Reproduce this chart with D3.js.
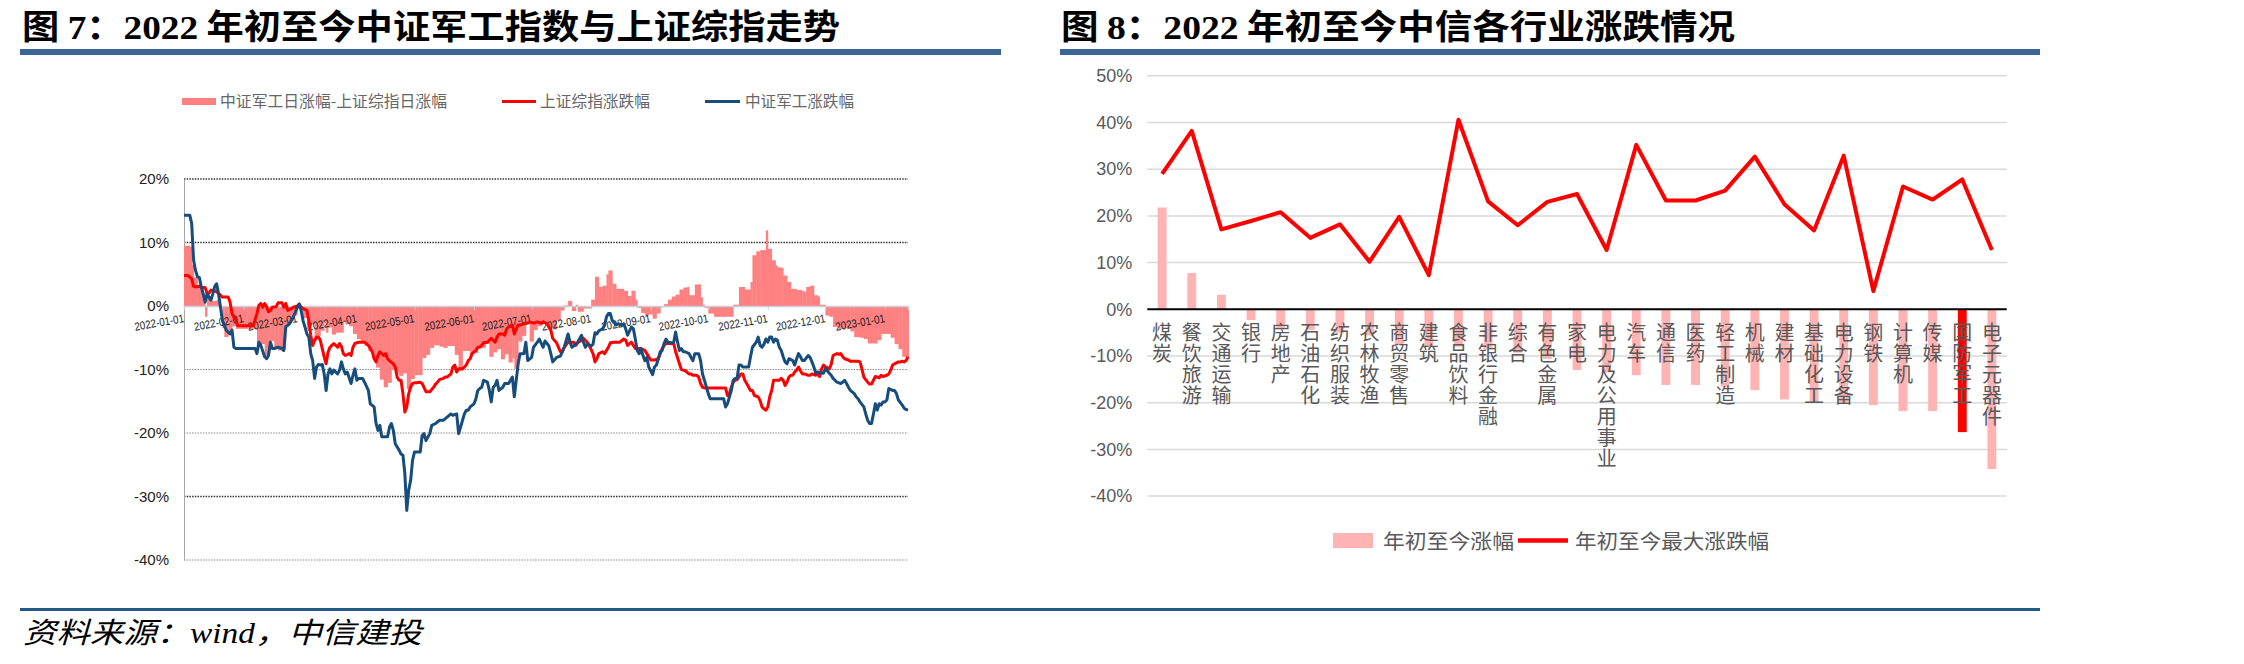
<!DOCTYPE html>
<html><head><meta charset="utf-8">
<script src="https://cdn.jsdelivr.net/npm/d3@7"></script>
<style>html,body{margin:0;padding:0;background:#fff;}svg{display:block;}</style>
</head><body>
<svg id="c" width="2244" height="664"></svg>
<script>
// ================= DATA =================
// Chart 7 (left)
const leftTitle = "图 7：2022 年初至今中证军工指数与上证综指走势";
const leftLegend = ["中证军工日涨幅-上证综指日涨幅", "上证综指涨跌幅", "中证军工涨跌幅"];
const leftYTicks = [20, 10, 0, -10, -20, -30, -40];
const dateTicks = ["2022-01-01","2022-02-01","2022-03-01","2022-04-01","2022-05-01","2022-06-01","2022-07-01","2022-08-01","2022-09-01","2022-10-01","2022-11-01","2022-12-01","2023-01-01"];
const periodStart = "2022-01-01", periodEnd = "2023-01-13";
// [days since 2022-01-01, value %]
const defenseSeries = [[0,14.3],[3,14.3],[4,13.0],[5,7.2],[6,5.6],[7,4.6],[8,4.5],[9,3.0],[10,1.9],[11,0.6],[12,1.9],[13,1.4],[14,0.9],[15,1.9],[16,3.1],[17,3.5],[18,1.9],[19,-0.2],[20,-2.3],[22,-3.8],[24,-4.4],[25,-3.8],[26,-6.5],[27,-6.7],[29,-6.7],[33,-6.7],[37,-6.7],[38,-7.5],[39,-5.7],[40,-6.2],[42,-8.0],[43,-8.3],[44,-7.8],[45,-5.7],[46,-6.7],[47,-6.7],[49,-6.5],[51,-6.7],[52,-7.0],[53,-3.3],[55,-2.8],[57,-1.7],[59,-0.2],[60,0.3],[61,-0.7],[62,-2.3],[64,-4.4],[65,-4.9],[66,-7.5],[67,-8.6],[68,-11.4],[69,-9.6],[70,-9.2],[71,-9.3],[72,-9.2],[73,-10.7],[74,-13.3],[75,-10.7],[76,-9.9],[77,-10.7],[78,-10.1],[80,-10.7],[81,-10.1],[82,-8.8],[83,-9.9],[84,-10.7],[85,-10.4],[87,-12.2],[88,-10.9],[89,-9.9],[90,-11.7],[91,-11.4],[93,-11.4],[94,-12.0],[96,-13.3],[97,-15.4],[99,-15.9],[100,-18.5],[101,-19.6],[102,-18.8],[103,-20.6],[106,-20.6],[107,-19.1],[108,-18.5],[109,-19.6],[110,-21.7],[112,-22.7],[113,-23.3],[114,-23.5],[115,-26.4],[116,-32.2],[117,-29.0],[118,-27.5],[119,-24.3],[120,-23.0],[123,-23.0],[124,-20.4],[125,-20.1],[126,-21.2],[128,-20.1],[129,-18.8],[131,-18.5],[133,-18.0],[135,-18.0],[137,-17.5],[139,-17.0],[140,-17.2],[142,-17.0],[143,-20.1],[144,-19.1],[146,-17.0],[147,-16.4],[148,-16.4],[149,-15.9],[151,-15.4],[152,-14.6],[153,-13.3],[154,-13.0],[155,-12.8],[156,-11.7],[158,-12.0],[159,-13.3],[160,-15.1],[161,-12.8],[162,-12.5],[163,-11.7],[164,-13.3],[166,-12.8],[167,-12.2],[169,-12.2],[171,-11.2],[172,-14.3],[173,-11.7],[174,-9.1],[175,-7.5],[177,-7.5],[178,-5.7],[179,-8.6],[181,-8.1],[182,-6.5],[184,-5.7],[185,-5.2],[187,-6.5],[188,-5.5],[190,-6.3],[191,-7.5],[192,-8.8],[194,-8.1],[196,-7.9],[198,-6.5],[200,-4.4],[201,-5.7],[202,-6.5],[204,-6.0],[205,-5.7],[207,-4.6],[208,-5.7],[209,-6.5],[210,-6.0],[212,-6.3],[213,-6.0],[214,-4.2],[215,-4.4],[216,-3.9],[218,-3.6],[219,-3.0],[220,-1.7],[221,-1.2],[222,-1.2],[223,-2.3],[225,-3.0],[226,-2.8],[228,-3.0],[229,-2.8],[230,-3.6],[231,-4.6],[233,-3.3],[234,-3.6],[235,-5.2],[236,-7.0],[237,-7.5],[238,-6.7],[239,-7.8],[240,-8.6],[241,-8.1],[242,-9.6],[244,-10.8],[245,-9.6],[246,-9.3],[247,-8.3],[248,-7.2],[249,-7.0],[250,-5.9],[251,-5.2],[252,-5.7],[254,-5.8],[255,-5.7],[256,-4.1],[257,-5.7],[258,-7.0],[259,-6.7],[260,-7.2],[261,-7.2],[263,-7.5],[264,-8.1],[265,-8.6],[266,-7.5],[268,-7.5],[269,-8.6],[270,-10.7],[271,-11.7],[273,-13.8],[274,-14.6],[276,-14.6],[278,-14.6],[281,-14.6],[282,-15.9],[283,-15.4],[284,-14.3],[285,-13.3],[286,-11.7],[287,-11.4],[288,-11.4],[289,-9.3],[290,-9.3],[291,-9.6],[293,-9.6],[294,-9.6],[295,-8.0],[296,-6.5],[298,-5.7],[299,-4.9],[300,-6.2],[301,-6.5],[302,-6.0],[303,-5.2],[304,-5.7],[305,-4.9],[306,-4.9],[307,-5.7],[308,-5.2],[309,-5.4],[310,-6.5],[311,-7.0],[312,-8.0],[313,-8.8],[314,-9.1],[315,-8.3],[317,-8.6],[318,-9.3],[319,-8.3],[320,-7.5],[321,-8.0],[322,-8.6],[323,-8.6],[325,-7.8],[326,-8.1],[327,-8.8],[328,-9.6],[329,-10.6],[330,-10.4],[332,-10.6],[333,-10.6],[334,-9.8],[336,-10.6],[337,-10.9],[338,-11.4],[339,-11.7],[340,-12.0],[342,-12.2],[343,-12.0],[344,-11.7],[345,-12.2],[346,-12.8],[347,-13.3],[349,-13.8],[350,-14.3],[351,-14.6],[352,-15.1],[354,-15.9],[355,-17.0],[356,-18.0],[357,-18.5],[358,-18.5],[359,-17.0],[360,-15.4],[361,-16.4],[362,-15.4],[363,-15.6],[364,-15.1],[365,-15.1],[366,-14.8],[367,-13.0],[369,-13.3],[370,-13.3],[371,-13.8],[372,-14.8],[374,-15.6],[375,-16.1],[376,-16.3],[377,-16.4]];
const sseSeries = [[0,4.8],[2,4.8],[4,4.3],[5,3.1],[6,3.0],[8,3.1],[10,2.9],[11,2.9],[12,2.0],[13,2.0],[14,2.5],[16,2.4],[17,2.2],[18,2.0],[20,1.4],[21,1.4],[23,1.4],[24,0.6],[25,-1.2],[27,-2.2],[28,-3.1],[30,-3.1],[33,-3.1],[35,-3.1],[36,-3.1],[38,-1.2],[39,0.1],[40,0.4],[41,-0.2],[42,0.4],[43,-0.1],[44,-0.9],[45,-0.7],[46,-0.2],[48,-0.1],[49,0.5],[51,0.5],[52,-0.2],[53,0.4],[54,-0.7],[56,-0.4],[57,-0.2],[59,0.0],[60,0.3],[61,-0.2],[62,-0.4],[64,-0.7],[65,-2.3],[66,-4.6],[67,-6.2],[68,-5.4],[69,-4.9],[70,-4.9],[71,-5.4],[73,-8.0],[74,-9.1],[75,-7.3],[76,-6.5],[77,-6.2],[78,-5.9],[80,-6.5],[81,-5.9],[82,-6.4],[83,-7.5],[84,-7.8],[86,-7.5],[87,-7.8],[88,-6.5],[89,-5.9],[91,-5.7],[93,-5.7],[94,-5.7],[96,-6.2],[97,-6.7],[98,-7.2],[99,-8.3],[100,-8.8],[101,-7.8],[102,-7.2],[104,-7.8],[105,-7.5],[106,-8.3],[107,-8.6],[109,-9.1],[110,-9.6],[111,-11.2],[112,-11.7],[113,-11.7],[114,-13.8],[115,-16.7],[116,-15.9],[117,-13.8],[118,-12.8],[119,-12.2],[120,-12.1],[121,-12.1],[123,-12.0],[124,-12.2],[126,-13.5],[127,-13.5],[128,-13.5],[130,-12.8],[131,-12.3],[132,-12.0],[133,-11.6],[135,-11.4],[136,-11.2],[137,-11.2],[139,-10.7],[140,-9.6],[141,-9.3],[142,-10.4],[143,-9.9],[145,-9.9],[146,-9.6],[147,-9.3],[148,-8.6],[149,-8.3],[150,-7.5],[152,-7.0],[153,-6.5],[154,-6.5],[155,-6.2],[156,-5.8],[158,-5.7],[159,-5.4],[160,-5.1],[162,-5.7],[163,-4.9],[164,-4.4],[166,-4.4],[167,-4.6],[168,-3.6],[169,-3.3],[171,-3.0],[172,-4.4],[173,-3.6],[174,-3.0],[175,-3.0],[177,-2.8],[178,-2.8],[180,-2.5],[182,-2.7],[184,-2.5],[186,-2.7],[187,-2.5],[189,-2.8],[191,-3.8],[192,-5.1],[194,-5.8],[196,-7.2],[197,-7.2],[198,-6.5],[200,-5.7],[201,-5.7],[203,-5.7],[204,-6.2],[205,-5.8],[207,-5.4],[208,-5.1],[210,-5.7],[211,-6.2],[213,-7.5],[214,-8.8],[215,-8.3],[216,-7.5],[218,-7.2],[219,-7.5],[221,-6.5],[222,-5.8],[224,-5.7],[225,-5.7],[227,-5.7],[229,-5.2],[230,-5.4],[231,-6.2],[233,-5.7],[234,-6.2],[235,-6.7],[237,-6.7],[238,-6.7],[240,-7.0],[241,-7.5],[243,-8.5],[244,-8.5],[245,-8.5],[247,-8.3],[248,-7.5],[249,-6.7],[250,-6.2],[251,-5.9],[252,-5.9],[254,-5.9],[255,-5.9],[256,-7.2],[258,-9.1],[259,-10.0],[260,-10.1],[261,-10.2],[263,-10.7],[264,-10.7],[265,-10.9],[267,-10.9],[268,-11.2],[269,-12.2],[270,-12.8],[271,-12.9],[273,-12.9],[276,-12.9],[279,-12.9],[282,-12.9],[283,-14.1],[284,-13.8],[285,-12.8],[286,-12.0],[287,-11.7],[288,-11.6],[290,-10.7],[291,-10.7],[292,-11.7],[293,-12.2],[295,-13.3],[296,-13.3],[297,-14.1],[299,-14.3],[300,-14.9],[301,-15.9],[302,-16.2],[303,-16.4],[304,-15.9],[305,-14.3],[306,-13.3],[307,-11.7],[308,-11.7],[310,-11.7],[311,-11.4],[312,-11.7],[313,-12.5],[314,-12.0],[315,-11.2],[316,-10.9],[317,-10.9],[318,-10.4],[319,-10.1],[320,-9.6],[321,-10.2],[322,-10.7],[323,-10.7],[325,-10.9],[326,-10.9],[327,-10.7],[329,-10.9],[330,-10.7],[331,-11.1],[332,-9.9],[333,-9.3],[334,-9.6],[336,-9.9],[337,-9.2],[338,-7.8],[340,-7.5],[341,-7.6],[342,-7.5],[343,-8.0],[344,-8.3],[346,-8.5],[347,-8.7],[348,-8.7],[350,-8.7],[351,-8.7],[352,-8.8],[353,-9.9],[354,-11.2],[356,-12.0],[357,-12.3],[358,-12.3],[359,-11.7],[360,-11.1],[362,-11.3],[363,-10.9],[364,-11.1],[366,-10.9],[367,-10.7],[368,-10.1],[369,-9.3],[370,-9.1],[372,-8.8],[373,-8.8],[374,-8.7],[375,-8.8],[376,-8.6],[377,-8.0]];
const spreadSeries = [[0,9.5],[3,9.3],[4,6.5],[5,4.5],[7,3.0],[9,3.0],[10,1.5],[11,-1.7],[12,1.3],[14,0.8],[17,1.0],[18,-0.2],[20,-3.5],[21,-4.9],[23,-4.5],[25,-3.2],[27,-3.6],[30,-3.6],[33,-3.6],[36,-3.6],[38,-6.3],[40,-6.0],[42,-7.8],[44,-7.0],[45,-5.5],[47,-6.5],[49,-7.0],[51,-7.2],[52,-6.8],[53,-3.0],[55,-2.3],[57,-1.5],[59,-0.2],[60,0.0],[62,-1.9],[64,-3.7],[65,-2.6],[66,-2.9],[68,-5.5],[69,-4.7],[71,-3.9],[73,-2.7],[74,-4.2],[75,-3.4],[77,-4.5],[79,-4.2],[81,-4.2],[83,-2.4],[84,-2.9],[86,-3.2],[88,-4.4],[90,-5.2],[92,-5.7],[94,-6.3],[96,-7.1],[98,-8.2],[100,-9.7],[102,-11.6],[104,-12.8],[106,-12.1],[108,-10.0],[110,-10.6],[112,-11.0],[114,-10.6],[116,-13.1],[118,-11.5],[120,-10.9],[122,-10.9],[124,-8.2],[126,-7.7],[128,-6.6],[130,-6.2],[133,-6.4],[135,-6.6],[137,-6.3],[139,-6.3],[141,-7.7],[143,-10.2],[145,-7.1],[147,-7.1],[149,-7.6],[151,-7.4],[153,-6.5],[155,-6.6],[157,-6.0],[159,-8.0],[161,-7.3],[163,-6.8],[165,-8.4],[167,-7.6],[169,-8.9],[171,-8.2],[172,-9.9],[174,-5.6],[176,-4.7],[178,-2.9],[180,-5.6],[182,-3.8],[184,-3.2],[186,-2.5],[188,-3.0],[190,-3.5],[192,-3.7],[194,-2.3],[196,-0.7],[198,0.1],[200,0.8],[202,-0.8],[204,0.2],[205,-0.9],[208,-0.4],[210,-0.4],[212,1.0],[214,4.6],[216,3.0],[218,3.2],[220,5.0],[221,5.6],[223,3.5],[225,2.7],[227,2.7],[229,2.4],[231,1.6],[233,2.4],[235,1.0],[236,-0.3],[238,-1.1],[240,-1.5],[242,-1.3],[244,-2.0],[246,-1.2],[248,-0.2],[250,0.3],[252,1.0],[254,1.5],[256,1.8],[258,2.6],[260,2.9],[262,3.0],[263,1.7],[266,3.4],[268,3.4],[269,1.4],[270,0.2],[271,-0.3],[273,-1.2],[276,-1.7],[279,-1.7],[282,-1.7],[284,-1.7],[286,0.2],[289,3.0],[292,2.6],[295,3.8],[296,8.0],[298,8.6],[300,8.8],[302,8.8],[303,11.9],[304,9.0],[306,7.2],[308,6.4],[309,6.1],[311,6.0],[312,4.8],[314,3.8],[316,2.7],[318,2.7],[319,2.5],[322,2.3],[324,3.0],[326,3.2],[328,1.7],[330,1.5],[331,0.2],[334,-1.5],[336,-1.7],[338,-3.3],[341,-3.6],[344,-3.5],[347,-4.0],[349,-4.9],[352,-5.0],[354,-5.2],[356,-5.9],[359,-5.9],[361,-5.4],[363,-4.4],[366,-4.4],[368,-5.0],[370,-6.0],[372,-6.8],[374,-8.0],[376,-8.2],[377,-8.3]];

// Chart 8 (right)
const rightTitle = "图 8：2022 年初至今中信各行业涨跌情况";
const rightLegend = ["年初至今涨幅", "年初至今最大涨跌幅"];
const rightYTicks = [50, 40, 30, 20, 10, 0, -10, -20, -30, -40];
const industries = ["煤炭","餐饮旅游","交通运输","银行","房地产","石油石化","纺织服装","农林牧渔","商贸零售","建筑","食品饮料","非银行金融","综合","有色金属","家电","电力及公用事业","汽车","通信","医药","轻工制造","机械","建材","基础化工","电力设备","钢铁","计算机","传媒","国防军工","电子元器件"];
const ytdChange = [21.8,7.8,3.1,-2.3,-4.1,-4.4,-5.0,-5.6,-7.6,-7.9,-8.0,-8.6,-9.3,-10.6,-13.0,-13.5,-14.1,-16.2,-16.2,-16.6,-17.3,-19.3,-19.8,-20.2,-20.5,-21.8,-21.8,-26.3,-34.2];
const maxSwing = [29.0,38.2,17.1,18.9,20.8,15.3,18.2,10.2,19.8,7.3,40.6,23.1,18.0,23.0,24.7,12.7,35.2,23.3,23.3,25.4,32.7,22.5,16.9,32.9,3.9,26.3,23.5,27.8,12.7];
const highlightIndustry = "国防军工";
const sourceNote = "资料来源：wind，中信建投";

// ================= DRAW =================
const svg = d3.select("#c");
const CJK = "'Noto Sans CJK SC','Noto Sans',sans-serif";
const SANS = "'Liberation Sans',Arial,sans-serif";

function title(x, str, len) {
  const t = svg.append("text").attr("x", x).attr("y", 39).attr("font-size", 34).attr("font-weight", "bold")
    .attr("fill", "#000").attr("textLength", len).attr("lengthAdjust", "spacingAndGlyphs");
  str.split(/(\d+)/).forEach(p => {
    if (!p) return;
    t.append("tspan").attr("font-family", /^\d+$/.test(p) ? "'Liberation Serif',serif" : CJK).text(p);
  });
}
title(22, leftTitle, 818);
title(1061, rightTitle, 674);
svg.append("rect").attr("x", 20).attr("y", 49).attr("width", 981).attr("height", 6).attr("fill", "#3a6594");
svg.append("rect").attr("x", 1060).attr("y", 49).attr("width", 980).attr("height", 6).attr("fill", "#3a6594");
svg.append("rect").attr("x", 20).attr("y", 608).attr("width", 2020).attr("height", 3).attr("fill", "#245a8a");
svg.append("text").attr("x", 23).attr("y", 643).attr("font-size", 29).attr("font-style", "italic")
  .attr("font-family", "'Liberation Serif','Noto Sans CJK SC',serif").attr("fill", "#000")
  .attr("textLength", 399).attr("lengthAdjust", "spacingAndGlyphs").text(sourceNote);

// ---------- Left chart ----------
const parse = d3.timeParse("%Y-%m-%d");
const t0 = parse(periodStart);
const toDate = d => d3.timeDay.offset(t0, d);
const xL = d3.scaleTime().domain([t0, parse(periodEnd)]).range([184, 908]);
const yL = d3.scaleLinear().domain([-40, 20]).range([560, 179]);
const gL = svg.append("g");

gL.append("g").selectAll("line").data(leftYTicks.filter(v => v !== 0)).join("line")
  .attr("x1", 184).attr("x2", 908).attr("y1", d => yL(d)).attr("y2", d => yL(d))
  .attr("stroke", d => (d === 20 || d === 10 || d === -30) ? "#333" : "#8a8a8a")
  .attr("stroke-width", d => (d === 20 || d === 10 || d === -30) ? 1.6 : 1.2)
  .attr("stroke-dasharray", "1.5,1.2");
const yAxisL = gL.append("g").attr("transform", "translate(184,0)")
  .call(d3.axisLeft(yL).tickValues(leftYTicks).tickSize(0).tickPadding(15).tickFormat(d => d + "%"));
yAxisL.select(".domain").attr("stroke", "#a6a6a6").attr("stroke-width", 1);
yAxisL.selectAll("text").attr("font-family", SANS).attr("font-size", 15).attr("fill", "#222");

gL.append("g").selectAll("rect").data(spreadSeries).join("rect")
  .attr("x", d => xL(toDate(d[0])))
  .attr("width", (d, i) => {
    const next = i < spreadSeries.length - 1 ? xL(toDate(spreadSeries[i + 1][0])) : xL(parse(periodEnd));
    return Math.max(1, next - xL(toDate(d[0])) + 0.4);
  })
  .attr("y", d => Math.min(yL(d[1]), yL(0)))
  .attr("height", d => Math.abs(yL(d[1]) - yL(0)))
  .attr("fill", "#ff8080");

const ticksD = dateTicks.map(parse);
const xAxisL = gL.append("g").attr("transform", `translate(0,${yL(0)})`)
  .call(d3.axisBottom(xL).tickValues(ticksD).tickSize(4).tickFormat(d3.timeFormat("%Y-%m-%d")));
xAxisL.select(".domain").attr("stroke", "#c9cfdb").attr("stroke-width", 1.5);
xAxisL.selectAll(".tick line").attr("stroke", "#c9cfdb");
xAxisL.selectAll("text").attr("font-family", SANS).attr("font-size", 11.5).attr("fill", "#1a1a1a")
  .attr("text-anchor", "end").attr("dy", null).attr("y", 0)
  .attr("transform", "translate(0,16) rotate(-10)")
  .attr("textLength", 50).attr("lengthAdjust", "spacingAndGlyphs");

const lineL = d3.line().x(d => xL(toDate(d[0]))).y(d => yL(d[1]));
gL.append("path").datum(sseSeries).attr("d", lineL).attr("fill", "none").attr("stroke", "#ff0000")
  .attr("stroke-width", 3).attr("stroke-linejoin", "round");
gL.append("path").datum(defenseSeries).attr("d", lineL).attr("fill", "none").attr("stroke", "#164d7c")
  .attr("stroke-width", 3).attr("stroke-linejoin", "round");

const lgL = svg.append("g").attr("font-family", CJK).attr("font-size", 15.5).attr("fill", "#666");
lgL.append("rect").attr("x", 182).attr("y", 98).attr("width", 34).attr("height", 7).attr("fill", "#ff8080");
lgL.append("text").attr("x", 220).attr("y", 107).attr("textLength", 227).attr("lengthAdjust", "spacingAndGlyphs").text(leftLegend[0]);
lgL.append("line").attr("x1", 502).attr("x2", 536).attr("y1", 101.5).attr("y2", 101.5).attr("stroke", "#ff0000").attr("stroke-width", 3);
lgL.append("text").attr("x", 540).attr("y", 107).attr("textLength", 110).attr("lengthAdjust", "spacingAndGlyphs").text(leftLegend[1]);
lgL.append("line").attr("x1", 705).attr("x2", 740).attr("y1", 101.5).attr("y2", 101.5).attr("stroke", "#164d7c").attr("stroke-width", 3);
lgL.append("text").attr("x", 745).attr("y", 107).attr("textLength", 109).attr("lengthAdjust", "spacingAndGlyphs").text(leftLegend[2]);

// ---------- Right chart ----------
const xR = d3.scaleBand().domain(industries).range([1147.3, 2006.7]).paddingInner(0.7).paddingOuter(0.35);
const yR = d3.scaleLinear().domain([-40, 50]).range([496.1, 75.8]);
const gR = svg.append("g");
gR.append("g").selectAll("line").data(rightYTicks.filter(v => v !== 0)).join("line")
  .attr("x1", 1147.3).attr("x2", 2006.7).attr("y1", d => yR(d)).attr("y2", d => yR(d))
  .attr("stroke", "#d9d9d9").attr("stroke-width", 1.5);
const yAxisR = gR.append("g").attr("transform", "translate(1147.3,0)")
  .call(d3.axisLeft(yR).tickValues(rightYTicks).tickSize(0).tickPadding(15).tickFormat(d => d + "%"));
yAxisR.select(".domain").remove();
yAxisR.selectAll("text").attr("font-family", SANS).attr("font-size", 18).attr("fill", "#595959");

const rows = industries.map((c, i) => ({ c, ytd: ytdChange[i], mx: maxSwing[i] }));
gR.append("g").selectAll("rect").data(rows).join("rect")
  .attr("x", d => xR(d.c)).attr("width", xR.bandwidth())
  .attr("y", d => Math.min(yR(d.ytd), yR(0))).attr("height", d => Math.abs(yR(d.ytd) - yR(0)))
  .attr("fill", d => d.c === highlightIndustry ? "#ff0000" : "#ffb3b3");
gR.append("line").attr("x1", 1147.3).attr("x2", 2006.7).attr("y1", yR(0)).attr("y2", yR(0))
  .attr("stroke", "#000").attr("stroke-width", 2);

// category labels: vertical writing mode, one text element per category
gR.append("g").selectAll("text").data(rows).join("text")
  .attr("x", d => xR(d.c) + xR.bandwidth() / 2).attr("y", 322)
  .attr("font-family", CJK).attr("font-size", 20).attr("fill", "#595959")
  .style("writing-mode", "vertical-rl").style("text-orientation", "upright")
  .style("letter-spacing", "1px")
  .text(d => d.c);

const lineR = d3.line().x(d => xR(d.c) + xR.bandwidth() / 2).y(d => yR(d.mx));
gR.append("path").datum(rows).attr("d", lineR).attr("fill", "none").attr("stroke", "#ff0000")
  .attr("stroke-width", 4).attr("stroke-linejoin", "round");

const lgR = svg.append("g").attr("font-family", CJK).attr("font-size", 20).attr("fill", "#595959");
lgR.append("rect").attr("x", 1333).attr("y", 533).attr("width", 40).attr("height", 15).attr("fill", "#ffb3b3");
lgR.append("text").attr("x", 1383).attr("y", 549).attr("textLength", 131).attr("lengthAdjust", "spacingAndGlyphs").text(rightLegend[0]);
lgR.append("line").attr("x1", 1518).attr("x2", 1568).attr("y1", 540.5).attr("y2", 540.5).attr("stroke", "#ff0000").attr("stroke-width", 4.5);
lgR.append("text").attr("x", 1575).attr("y", 549).attr("textLength", 194).attr("lengthAdjust", "spacingAndGlyphs").text(rightLegend[1]);
</script>
</body></html>
